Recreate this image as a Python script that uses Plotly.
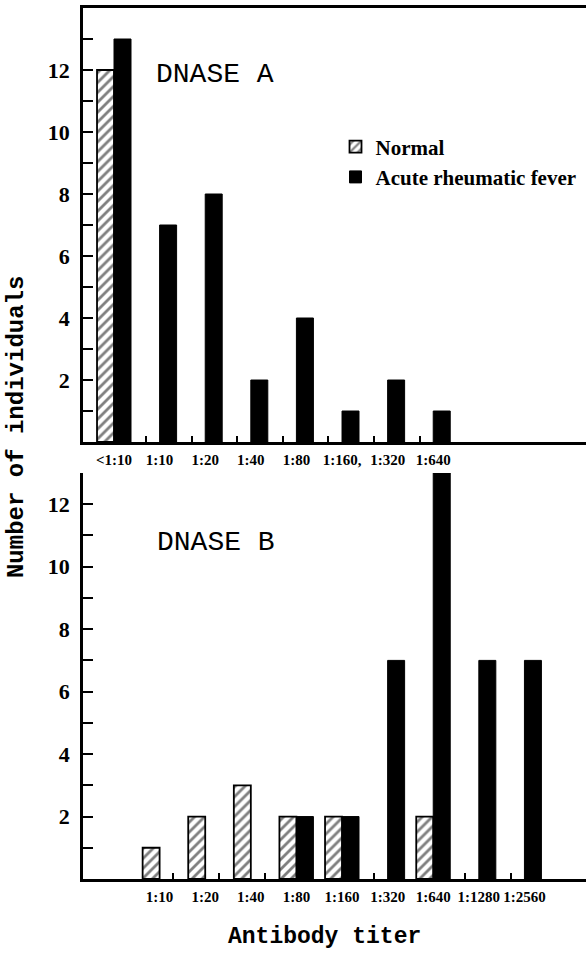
import plotly.graph_objects as go

# ---- data ----
top_labels = ["<1:10", "1:10", "1:20", "1:40", "1:80", "1:160,", "1:320", "1:640"]
top_normal = [12, None, None, None, None, None, None, None]
top_arf = [13, 7, 8, 2, 4, 1, 2, 1]

bottom_labels = ["1:10", "1:20", "1:40", "1:80", "1:160", "1:320", "1:640", "1:1280", "1:2560"]
bottom_normal = [1, 2, 3, 2, 2, None, 2, None, None]
bottom_arf = [None, None, None, 2, 2, 7, 13, 7, 7]

top_pos = list(range(len(top_labels)))
bottom_pos = list(range(1, len(bottom_labels) + 1))

top_gap_ticks = [p + 0.7 for p in top_pos[:-1]]
bottom_gap_ticks = [1.3, 2.3, 3.3, 5.7, 7.7, 8.7]

SERIF = "Liberation Serif"
MONO = "Liberation Mono"

hatch = dict(shape="/", fgcolor="black", bgcolor="white", size=7, solidity=0.4)

fig = go.Figure()
fig.add_trace(go.Bar(x=top_pos, y=top_normal, name="Normal", legendgroup="n",
                     marker=dict(color="white", pattern=hatch, line=dict(color="black", width=1.8)),
                     xaxis="x", yaxis="y"))
fig.add_trace(go.Bar(x=top_pos, y=top_arf, name="Acute rheumatic fever", legendgroup="a",
                     marker=dict(color="black", line=dict(color="black", width=1)),
                     xaxis="x", yaxis="y"))
fig.add_trace(go.Bar(x=bottom_pos, y=bottom_normal, name="Normal", legendgroup="n", showlegend=False,
                     marker=dict(color="white", pattern=hatch, line=dict(color="black", width=1.8)),
                     xaxis="x2", yaxis="y2"))
fig.add_trace(go.Bar(x=bottom_pos, y=bottom_arf, name="Acute rheumatic fever", legendgroup="a", showlegend=False,
                     marker=dict(color="black", line=dict(color="black", width=1)),
                     xaxis="x2", yaxis="y2"))

xrange = [-0.68, 10.35]
common_x = dict(range=xrange, showline=True, linecolor="black", linewidth=2.5,
                showgrid=False, zeroline=False, ticks="", tickmode="array", tickangle=0,
                tickfont=dict(family=SERIF, size=15, color="black", weight="bold"),
                ticklabelstandoff=2)
common_y = dict(showline=True, linecolor="black", linewidth=2.5, showgrid=False, zeroline=False,
                ticks="inside", ticklen=10, tickwidth=2, tickcolor="black", tickmode="array",
                tickfont=dict(family=SERIF, size=22, color="black", weight="bold"),
                ticklabelstandoff=6)

def ytick(n):
    vals = list(range(1, n + 1))
    return vals, [str(v) if v % 2 == 0 else "" for v in vals]

tv1, tt1 = ytick(13)
tv2, tt2 = ytick(13)

fig.update_layout(
    width=586, height=953,
    margin=dict(l=83, r=0, t=8, b=74),
    paper_bgcolor="white", plot_bgcolor="white",
    barmode="group", bargap=0.255, bargroupgap=0,
    xaxis=dict(**common_x, domain=[0, 1], anchor="y", mirror=True,
               tickvals=top_pos, ticktext=top_labels,
               minor=dict(tickmode="array", tickvals=top_gap_ticks, ticks="inside",
                          ticklen=6, tickwidth=2, tickcolor="black")),
    yaxis=dict(**common_y, domain=[0.5017, 1], anchor="x", range=[0, 14],
               tickvals=tv1, ticktext=tt1),
    xaxis2=dict(**common_x, domain=[0, 1], anchor="y2",
                tickvals=bottom_pos, ticktext=bottom_labels,
                minor=dict(tickmode="array", tickvals=bottom_gap_ticks, ticks="inside",
                           ticklen=6, tickwidth=2, tickcolor="black")),
    yaxis2=dict(**common_y, domain=[0, 0.4661], anchor="x2", range=[0, 13],
                tickvals=tv2, ticktext=tt2),
    legend=dict(x=0.502, y=0.864, xanchor="left", yanchor="top",
                bgcolor="rgba(0,0,0,0)", borderwidth=0,
                font=dict(family=SERIF, size=21, color="black", weight="bold"),
                itemwidth=30, tracegroupgap=0),
    showlegend=True,
    annotations=[
        dict(text="DNASE A", x=0.262, y=11.87, xref="paper", yref="y", showarrow=False,
             font=dict(family=MONO, size=28, color="black"), xanchor="center", yanchor="middle"),
        dict(text="DNASE B", x=0.264, y=10.77, xref="paper", yref="y2", showarrow=False,
             font=dict(family=MONO, size=28, color="black"), xanchor="center", yanchor="middle"),
        dict(text="Number of individuals", x=-0.131, y=0.519, xref="paper", yref="paper",
             showarrow=False, textangle=-90,
             font=dict(family=MONO, size=24, color="black", weight="bold"),
             xanchor="center", yanchor="middle"),
        dict(text="Antibody titer", x=0.481, y=-0.0666, xref="paper", yref="paper",
             showarrow=False, font=dict(family=MONO, size=23, color="black", weight="bold"),
             xanchor="center", yanchor="middle"),
    ],
)

fig.write_html("out.html")
